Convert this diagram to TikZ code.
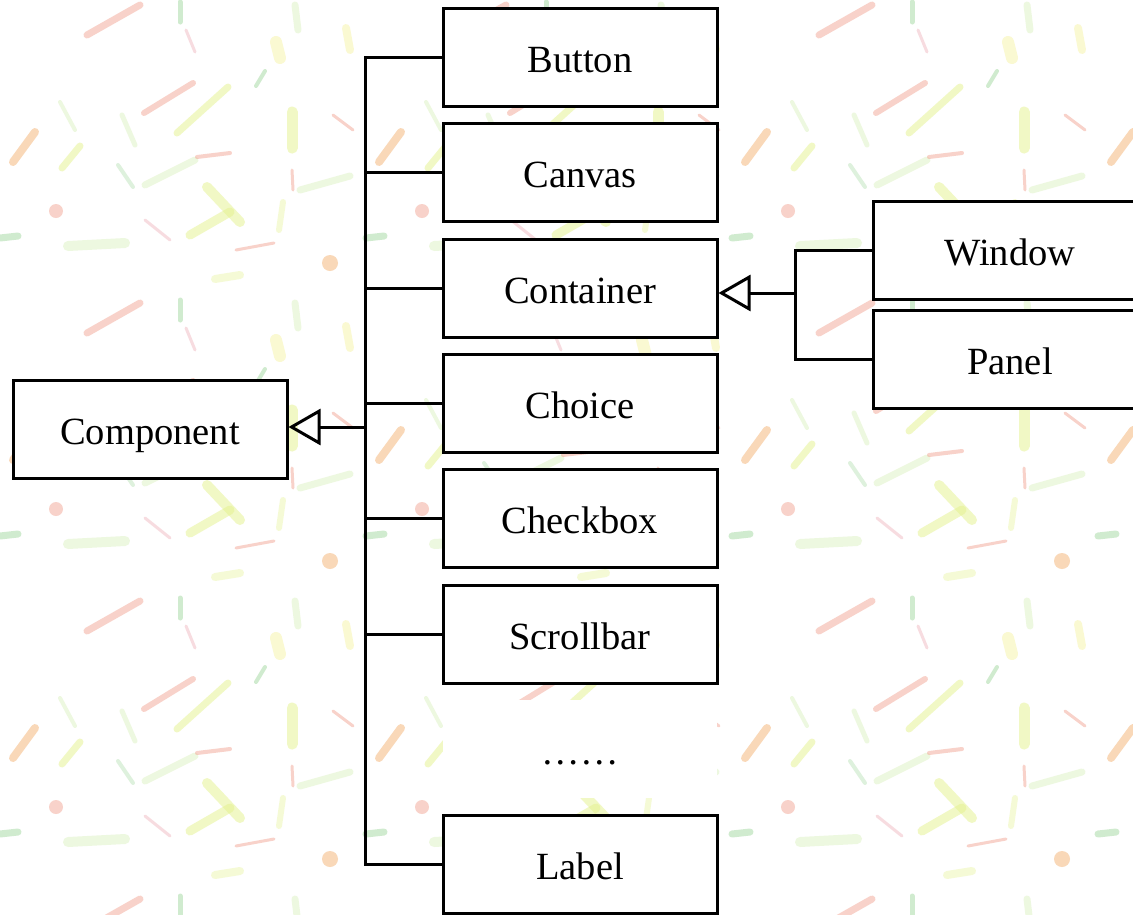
\documentclass[tikz,border=0pt]{standalone}
\usepackage{fontspec}
\setmainfont{Liberation Serif}
\usetikzlibrary{arrows.meta}

\definecolor{lfSalmon}{HTML}{F3A696}
\definecolor{lfOrange}{HTML}{F4B272}
\definecolor{lfGreen}{HTML}{A3D9A0}
\definecolor{lfLight}{HTML}{DDF2C2}
\definecolor{lfLime}{HTML}{E4F28C}
\definecolor{lfYellow}{HTML}{F7F4A6}
\definecolor{lfPink}{HTML}{F1BAC2}

% one repeat of the scattered leaf wallpaper
\newcommand{\leaftile}{%
  \draw[lfSalmon, line width=7pt] (87,35) -- (140,5);
  \draw[lfGreen, line width=5pt] (180,2) -- (180,22);
  \draw[lfPink, line width=3pt] (186,30) -- (195,52);
  \draw[lfSalmon, line width=6pt] (144,113) -- (193,83);
  \draw[lfLime, line width=7pt] (177,133) -- (228,87);
  \draw[lfGreen, line width=4pt] (256,86) -- (265,71);
  \draw[lfYellow, line width=12pt] (276,42) -- (280,58);
  \draw[lfLight, line width=7pt] (295,5) -- (298,30);
  \draw[lfYellow, line width=8pt] (346,28) -- (350,50);
  \draw[lfOrange, line width=8pt] (13,162) -- (35,132);
  \draw[lfLime, line width=7pt] (62,168) -- (80,146);
  \draw[lfLight, line width=4pt] (60,102) -- (75,130);
  \draw[lfLight, line width=5pt] (122,115) -- (135,145);
  \draw[lfGreen!70, line width=4pt] (118,165) -- (133,187);
  \draw[lfLight, line width=7pt] (145,185) -- (195,160);
  \draw[lfSalmon, line width=4pt] (197,157) -- (230,153);
  \draw[lfLime, line width=10pt] (207,187) -- (240,222);
  \draw[lfLime, line width=9pt] (190,235) -- (230,212);
  \draw[lfLime, line width=11pt] (292,112) -- (292,148);
  \draw[lfSalmon, line width=3pt] (292,170) -- (293,190);
  \draw[lfLight, line width=7pt] (300,190) -- (350,176);
  \draw[lfSalmon, line width=3pt] (333,115) -- (353,130);
  \fill[lfSalmon] (56,211) circle (7pt);
  \draw[lfGreen, line width=7pt] (0,238) -- (18,236);
  \draw[lfLight, line width=10pt] (68,246) -- (125,243);
  \draw[lfPink, line width=3pt] (145,220) -- (170,240);
  \draw[lfSalmon, line width=3pt] (236,250) -- (274,243);
  \draw[lfLime!70, line width=6pt] (279,230) -- (283,202);
  \fill[lfOrange] (330,263) circle (8pt);
  \draw[lfLime!70, line width=8pt] (215,279) -- (240,275);
}

\tikzset{
  cls/.style={draw=black, line width=3pt, fill=white, minimum width=274pt,
    minimum height=98pt, inner sep=0pt, text height=31pt, text depth=0pt,
    font=\fontsize{38.5}{44}\selectfont},
  gap/.style={fill=white, minimum width=274pt, minimum height=98pt,
    inner sep=0pt, text height=31pt, text depth=0pt,
    font=\fontsize{38.5}{44}\selectfont},
  wire/.style={black, line width=3pt},
  inherit/.style={wire, -{Triangle[open, length=32pt 0 0, width=36pt 0 0]}},
}

\begin{document}
\begin{tikzpicture}[x=1pt, y=-1pt]
  \useasboundingbox (0,0) rectangle (1133,914);
  \clip (0,0) rectangle (1133,914);
  \fill[white] (0,0) rectangle (1133,914);

  % wallpaper
  \begin{scope}[opacity=0.5, line cap=round]
    \foreach \i in {-1,0,1,2,3} {
      \foreach \j in {-1,0,1,2,3} {
        \begin{scope}[shift={(366*\i, 298*\j)}]
          \leaftile
        \end{scope}
      }
    }
  \end{scope}

  % classes
  \node[cls] (component) at (150,429) {Component};
  \node[cls] (button)    at (580,57)  {Button};
  \node[cls] (canvas)    at (580,172) {Canvas};
  \node[cls] (container) at (580,288) {Container};
  \node[cls] (choice)    at (580,403) {Choice};
  \node[cls] (checkbox)  at (580,518) {Checkbox};
  \node[cls] (scrollbar) at (580,634) {Scrollbar};
  \node[gap] (more)      at (580,749) {……};
  \node[cls] (label)     at (580,864) {Label};
  \node[cls] (window)    at (1010,250) {Window};
  \node[cls] (panel)     at (1010,359) {Panel};

  % Component hierarchy
  \coordinate (trunkA) at (365,427);
  \draw[wire] (button.west) -- (button.west -| trunkA)
              -- (label.west -| trunkA) -- (label.west);
  \foreach \n in {canvas,container,choice,checkbox,scrollbar}
    \draw[wire] (\n.west) -- (\n.west -| trunkA);
  \draw[inherit] (trunkA) -- (trunkA -| component.east);

  % Container hierarchy
  \coordinate (trunkB) at (795,293);
  \draw[wire] (window.west) -- (window.west -| trunkB)
              -- (panel.west -| trunkB) -- (panel.west);
  \draw[inherit] (trunkB) -- (trunkB -| container.east);
\end{tikzpicture}
\end{document}
